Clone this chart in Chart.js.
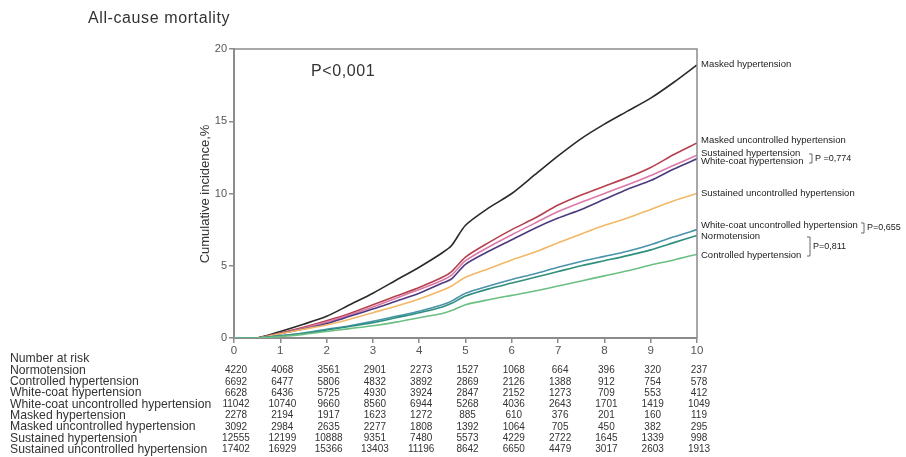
<!DOCTYPE html>
<html>
<head>
<meta charset="utf-8">
<script src="https://cdn.jsdelivr.net/npm/chart.js@4.4.1/dist/chart.umd.min.js"></script>
<style>
  html, body { margin: 0; padding: 0; background: #fff; }
  #wrap { width: 906px; height: 457px; position: relative; }
</style>
</head>
<body>
<div id="wrap"><canvas id="chart" width="906" height="457"></canvas></div>
<script>
// follow-up years
const years = [0, 0.5, 1, 1.5, 2, 2.5, 3, 3.5, 4, 4.5, 4.7, 5, 5.5, 6, 6.5, 7, 7.5, 8, 8.5, 9, 9.5, 10];

// cumulative incidence, %
const maskedHt      = [0, 0, 0.45, 0.95, 1.5, 2.3, 3.1, 4.0, 4.9, 5.9, 6.4, 7.8, 9.0, 10.0, 11.3, 12.6, 13.8, 14.8, 15.7, 16.6, 17.7, 18.9];
const maskedUncHt   = [0, 0, 0.35, 0.75, 1.2, 1.7, 2.3, 2.9, 3.5, 4.2, 4.6, 5.6, 6.6, 7.5, 8.3, 9.2, 9.9, 10.5, 11.1, 11.8, 12.7, 13.5];
const sustainedHt   = [0, 0, 0.3, 0.68, 1.1, 1.6, 2.15, 2.75, 3.35, 4.0, 4.35, 5.35, 6.3, 7.15, 7.95, 8.75, 9.4, 10.0, 10.6, 11.25, 11.95, 12.65];
const whiteCoatHt   = [0, 0, 0.3, 0.62, 1.0, 1.5, 2.0, 2.55, 3.1, 3.8, 4.1, 5.1, 6.0, 6.8, 7.6, 8.3, 8.9, 9.6, 10.3, 10.9, 11.7, 12.4];
const sustUncHt     = [0, 0, 0.3, 0.6, 0.9, 1.3, 1.75, 2.2, 2.7, 3.3, 3.6, 4.2, 4.8, 5.4, 5.95, 6.6, 7.2, 7.8, 8.3, 8.9, 9.5, 10.0];
const whiteCoatUnc  = [0, 0, 0.15, 0.35, 0.6, 0.85, 1.15, 1.5, 1.85, 2.3, 2.55, 3.1, 3.6, 4.05, 4.45, 4.9, 5.3, 5.65, 6.0, 6.45, 7.0, 7.5];
const normotension  = [0, 0, 0.15, 0.3, 0.55, 0.8, 1.05, 1.4, 1.75, 2.15, 2.4, 2.9, 3.4, 3.8, 4.2, 4.6, 5.0, 5.35, 5.7, 6.1, 6.6, 7.1];
const controlledHt  = [0, 0, 0.1, 0.25, 0.45, 0.65, 0.85, 1.1, 1.4, 1.7, 1.9, 2.3, 2.65, 2.95, 3.25, 3.6, 3.95, 4.3, 4.65, 5.05, 5.4, 5.8];

// group names (plot order) and where the end labels sit, in %
const groups = ['Masked hypertension', 'Masked uncontrolled hypertension', 'Sustained hypertension',
  'White-coat hypertension', 'Sustained uncontrolled hypertension', 'White-coat uncontrolled hypertension',
  'Normotension', 'Controlled hypertension'];
const labelAt = [18.95, 13.65, 12.75, 12.25, 10.0, 7.8, 7.05, 5.75];

// number at risk
const riskYears = [0, 1, 2, 3, 4, 5, 6, 7, 8, 9, 10];
const riskRows = ['Normotension', 'Controlled hypertension', 'White-coat hypertension',
  'White-coat uncontrolled hypertension', 'Masked hypertension', 'Masked uncontrolled hypertension',
  'Sustained hypertension', 'Sustained uncontrolled hypertension'];
const normoRisk      = [4220, 4068, 3561, 2901, 2273, 1527, 1068, 664, 396, 320, 237];
const controlledRisk = [6692, 6477, 5806, 4832, 3892, 2869, 2126, 1388, 912, 754, 578];
const whiteCoatRisk  = [6628, 6436, 5725, 4930, 3924, 2847, 2152, 1273, 709, 553, 412];
const wcUncRisk      = [11042, 10740, 9660, 8560, 6944, 5268, 4036, 2643, 1701, 1419, 1049];
const maskedRisk     = [2278, 2194, 1917, 1623, 1272, 885, 610, 376, 201, 160, 119];
const maskedUncRisk  = [3092, 2984, 2635, 2277, 1808, 1392, 1064, 705, 450, 382, 295];
const sustainedRisk  = [12555, 12199, 10888, 9351, 7480, 5573, 4229, 2722, 1645, 1339, 998];
const sustUncRisk    = [17402, 16929, 15366, 13403, 11196, 8642, 6650, 4479, 3017, 2603, 1913];

const seriesValues = [maskedHt, maskedUncHt, sustainedHt, whiteCoatHt, sustUncHt, whiteCoatUnc, normotension, controlledHt];
const riskValues = [normoRisk, controlledRisk, whiteCoatRisk, wcUncRisk, maskedRisk, maskedUncRisk, sustainedRisk, sustUncRisk];
const colors = ['#2a2a2a', '#b5404e', '#dc78a8', '#4b3a7e', '#f2b866', '#4a93aa', '#2f8f7e', '#6cbf82'];

const axisGray = '#8c8c8c';
const FONT = '"Liberation Sans", Arial, sans-serif';

// texts, box frame, brackets and the risk table
const decorations = {
  id: 'decorations',
  afterDraw(chart) {
    const ctx = chart.ctx;
    const { top, right, bottom, left } = chart.chartArea;
    const xs = chart.scales.x, ys = chart.scales.y;
    ctx.save();

    // frame top / right
    ctx.strokeStyle = axisGray;
    ctx.lineWidth = 1.5;
    ctx.beginPath();
    ctx.moveTo(left, top);
    ctx.lineTo(right, top);
    ctx.lineTo(right, bottom);
    ctx.stroke();

    ctx.fillStyle = '#333';
    ctx.textBaseline = 'middle';
    ctx.textAlign = 'left';
    ctx.font = '16px ' + FONT;
    ctx.letterSpacing = '0.6px';
    ctx.fillText('All-cause mortality', 88, 19);
    ctx.fillText('P<0,001', 311, 72);
    ctx.letterSpacing = '0px';

    // y title
    ctx.save();
    ctx.translate(205, 194);
    ctx.rotate(-Math.PI / 2);
    ctx.textAlign = 'center';
    ctx.font = '13px ' + FONT;
    ctx.fillText('Cumulative incidence,%', 0, 0);
    ctx.restore();

    // end labels
    ctx.font = '9.5px ' + FONT;
    ctx.fillStyle = '#222';
    groups.forEach((g, i) => {
      ctx.fillText(g, right + 4, ys.getPixelForValue(labelAt[i]));
    });

    // p-value brackets
    const bracket = (x, y1, y2, txt) => {
      ctx.strokeStyle = '#444';
      ctx.lineWidth = 0.8;
      ctx.beginPath();
      ctx.moveTo(x - 3, y1);
      ctx.lineTo(x, y1);
      ctx.lineTo(x, y2);
      ctx.lineTo(x - 3, y2);
      ctx.stroke();
      ctx.fillText(txt, x + 3, (y1 + y2) / 2);
    };
    ctx.font = '9px ' + FONT;
    bracket(812, 154, 163, 'P =0,774');
    bracket(864, 223, 233, 'P=0,655');
    bracket(810, 237, 256, 'P=0,811');

    // number at risk table
    ctx.fillStyle = '#333';
    ctx.font = '12.2px ' + FONT;
    ctx.fillText('Number at risk', 10, 359);
    riskRows.forEach((r, i) => {
      const y = 370.5 + i * 11.3;
      ctx.font = '12.2px ' + FONT;
      ctx.textAlign = 'left';
      ctx.fillText(r, 10, y);
      ctx.font = '10px ' + FONT;
      ctx.textAlign = 'center';
      riskValues[i].forEach((v, j) => {
        ctx.fillText(String(v), xs.getPixelForValue(riskYears[j]) + 2, y);
      });
    });
    ctx.restore();
  }
};

new Chart(document.getElementById('chart'), {
  type: 'line',
  data: {
    datasets: groups.map((g, i) => ({
      label: g,
      data: years.map((t, k) => ({ x: t, y: seriesValues[i][k] })),
      borderColor: colors[i],
      borderWidth: 1.6,
      pointRadius: 0,
      tension: 0.25,
      fill: false
    })).reverse()
  },
  options: {
    responsive: false,
    animation: false,
    layout: { padding: { top: 49, right: 209, bottom: 0, left: 0 } },
    plugins: { legend: { display: false }, tooltip: { enabled: false } },
    scales: {
      x: {
        type: 'linear',
        min: 0, max: 10,
        afterFit: (s) => { s.height = 119; },
        ticks: { stepSize: 1, color: '#555', font: { family: FONT, size: 11.5 }, padding: 1 },
        grid: { drawOnChartArea: false, drawTicks: true, tickLength: 5, color: axisGray, lineWidth: 1.5 },
        border: { display: true, color: axisGray, width: 2 }
      },
      y: {
        min: 0, max: 20,
        afterFit: (s) => { s.width = 234; },
        ticks: { stepSize: 5, color: '#555', font: { family: FONT, size: 11 }, padding: 2 },
        grid: { drawOnChartArea: false, drawTicks: true, tickLength: 5, color: axisGray, lineWidth: 1.5 },
        border: { display: true, color: axisGray, width: 2 }
      }
    }
  },
  plugins: [decorations]
});
</script>
</body>
</html>
